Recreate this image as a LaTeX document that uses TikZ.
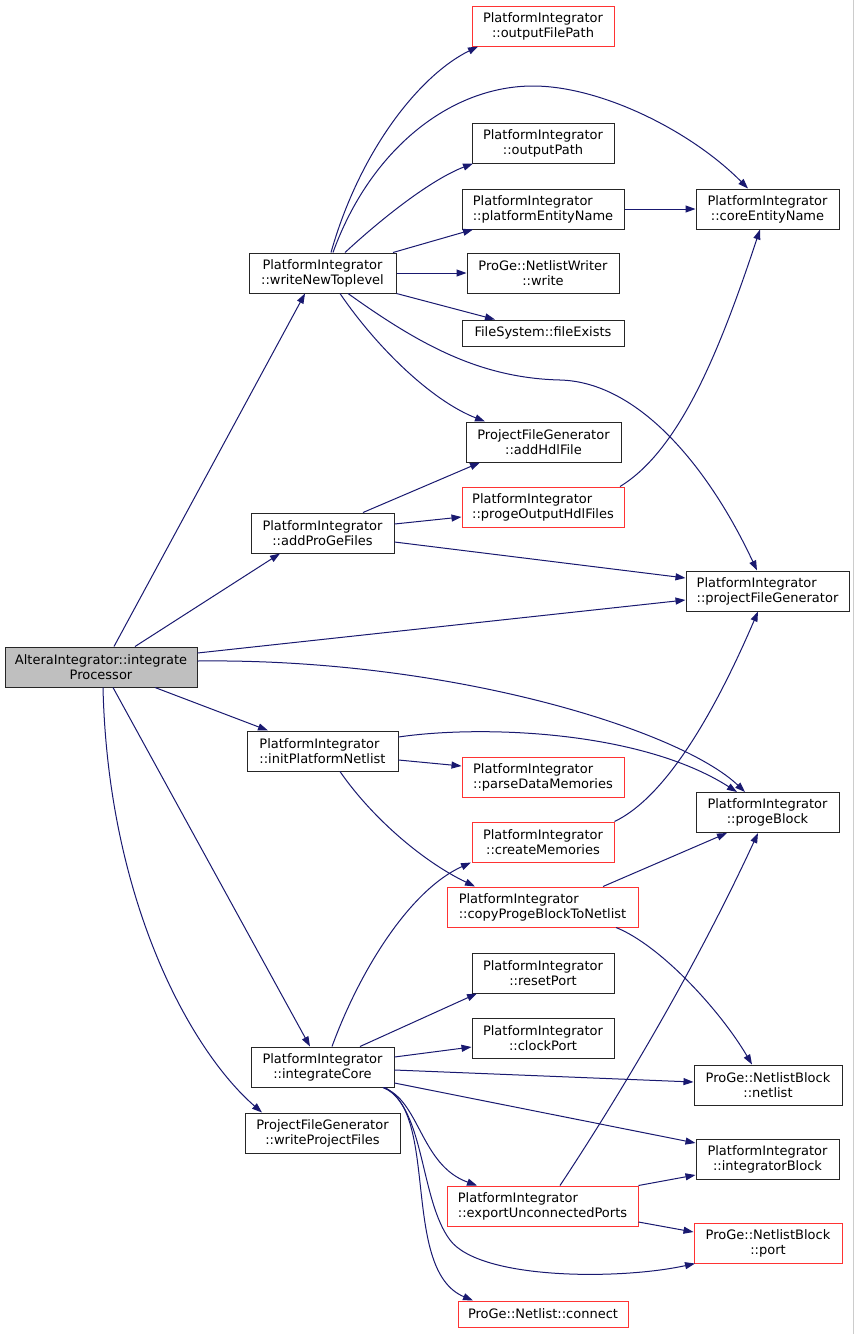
\documentclass[tikz,border=0pt]{standalone}
\usepackage{fontspec}
\setmainfont{DejaVu Sans}
\usetikzlibrary{arrows.meta}
\definecolor{edgec}{HTML}{191970}
\definecolor{redb}{HTML}{FF3333}
\definecolor{grayf}{HTML}{BFBFBF}
\begin{document}
\begin{tikzpicture}[x=1pt,y=-1pt,
  fn/.style={draw=black!85, line width=1pt, rectangle, inner sep=0pt, minimum height=40pt, align=center, font=\fontsize{13}{15}\selectfont},
  fnl/.style={fn, align=left},
  trunc/.style={draw=redb},
  e/.style={draw=edgec, line width=1pt, -{Triangle[length=10pt,width=7pt]}}]
\useasboundingbox (0,0) rectangle (855,1334);
\fill[white] (0,0) rectangle (855,1334);
\draw[gray!40, line width=1.5pt] (853.5,0) -- (853.5,1334);

% nodes
\node[fn, fill=grayf, minimum width=192pt] (A) at (101,667) {AlteraIntegrator::integrate\\Processor};
\node[fn, minimum width=147pt] (W) at (322.5,273) {PlatformIntegrator\\::writeNewToplevel};
\node[fn, minimum width=143pt] (G) at (322.5,533) {PlatformIntegrator\\::addProGeFiles};
\node[fnl, minimum width=151pt] (N) at (322.5,751) {PlatformIntegrator\\::initPlatformNetlist};
\node[fn, minimum width=143pt] (C) at (322.5,1067) {PlatformIntegrator\\::integrateCore};
\node[fn, minimum width=155pt] (WPF) at (322.5,1133) {ProjectFileGenerator\\::writeProjectFiles};

\node[fn, trunc, minimum width=142pt] (OFP) at (543,26) {PlatformIntegrator\\::outputFilePath};
\node[fn, minimum width=142pt] (OP) at (543,143) {PlatformIntegrator\\::outputPath};
\node[fnl, minimum width=162pt] (PEN) at (543,209) {PlatformIntegrator\\::platformEntityName};
\node[fn, minimum width=143pt] (CEN) at (767.5,209) {PlatformIntegrator\\::coreEntityName};
\node[fn, minimum width=152pt] (NW) at (543,273) {ProGe::NetlistWriter\\::write};
\node[fn, minimum width=162pt, minimum height=26pt] (FE) at (543,333) {FileSystem::fileExists};
\node[fn, minimum width=155pt] (AHF) at (543.5,442) {ProjectFileGenerator\\::addHdlFile};
\node[fnl, trunc, minimum width=162pt] (POH) at (543,507) {PlatformIntegrator\\::progeOutputHdlFiles};
\node[fnl, minimum width=163pt] (PFG) at (767.5,591) {PlatformIntegrator\\::projectFileGenerator};
\node[fnl, trunc, minimum width=162pt] (PDM) at (543,777) {PlatformIntegrator\\::parseDataMemories};
\node[fn, minimum width=143pt] (PB) at (767.5,812.5) {PlatformIntegrator\\::progeBlock};
\node[fn, trunc, minimum width=142pt] (CM) at (543,842) {PlatformIntegrator\\::createMemories};
\node[fnl, trunc, minimum width=191pt] (CPB) at (542.5,907) {PlatformIntegrator\\::copyProgeBlockToNetlist};
\node[fn, minimum width=142pt] (RP) at (543,973) {PlatformIntegrator\\::resetPort};
\node[fn, minimum width=142pt] (CP) at (543,1038) {PlatformIntegrator\\::clockPort};
\node[fn, minimum width=148pt] (NL) at (768,1085) {ProGe::NetlistBlock\\::netlist};
\node[fn, minimum width=143pt] (IB) at (767.5,1159) {PlatformIntegrator\\::integratorBlock};
\node[fnl, trunc, minimum width=191pt] (EUP) at (542.5,1206) {PlatformIntegrator\\::exportUnconnectedPorts};
\node[fn, trunc, minimum width=148pt] (PORT) at (768,1243) {ProGe::NetlistBlock\\::port};
\node[fn, trunc, minimum width=170pt, minimum height=26pt] (CON) at (543,1314) {ProGe::Netlist::connect};

% edges from A
\draw[e] ([xshift=13]A.north) -- ([xshift=-17.5]W.south);
\draw[e] ([xshift=34]A.north) -- ([xshift=-42.5]G.south);
\draw[e] ([yshift=14]A.east) -- ([yshift=-9]PFG.west);
\draw[e] ([yshift=6]A.east) .. controls (450,658) and (680,730) .. ([xshift=-22.5]PB.north);
\draw[e] ([xshift=54]A.south) -- ([xshift=-54.5]N.north);
\draw[e] ([xshift=12]A.south) -- ([xshift=-12.5]C.north);
\draw[e] ([xshift=2]A.south) .. controls (108,900) and (190,1050) .. ([xshift=-60.5]WPF.north);

% edges from W
\draw[e] ([xshift=8.5]W.north) .. controls (360,150) and (420,75) .. ([xshift=-65]OFP.south);
\draw[e] ([xshift=10.5]W.north) .. controls (370,150) and (450,86) .. (533,86)
   .. controls (600,86) and (690,130) .. ([xshift=-19.5]CEN.north);
\draw[e] ([xshift=22.5]W.north) .. controls (380,220) and (430,180) .. ([xshift=-70]OP.south);
\draw[e] ([xshift=70.5]W.north) -- ([xshift=-70]PEN.south);
\draw[e] (W.east) -- (NW.west);
\draw[e] (W.south east) -- ([xshift=-48]FE.north);
\draw[e] ([xshift=17.5]W.south) .. controls (375,345) and (430,400) .. ([xshift=-58.5]AHF.north);
\draw[e] ([xshift=25.5]W.south) .. controls (420,345) and (480,378) .. (560,380)
   .. controls (640,382) and (710,470) .. ([xshift=-10.5]PFG.north);

\draw[e] (PEN.east) -- (CEN.west);

% edges from G
\draw[e] ([xshift=40.5]G.north) -- ([xshift=-63.5]AHF.south);
\draw[e] ([yshift=9]G.east) -- ([yshift=-10]POH.west);
\draw[e] ([yshift=-9]G.east) -- ([yshift=13]PFG.west);

\draw[e] ([xshift=77]POH.north) .. controls (680,450) and (720,350) .. ([xshift=-7.5]CEN.south);

% edges from N
\draw[e] ([yshift=14]N.east) .. controls (480,725) and (640,730) .. ([xshift=-30.5]PB.north);
\draw[e] ([yshift=-9]N.east) -- ([yshift=11]PDM.west);
\draw[e] ([xshift=17.5]N.south) .. controls (370,815) and (420,860) .. ([xshift=-67.5]CPB.north);

\draw[e] (CM.north east) .. controls (670,795) and (720,700) .. ([xshift=-9.5]PFG.south);
\draw[e] ([xshift=60.5]CPB.north) -- ([xshift=-40.5]PB.south);
\draw[e] ([xshift=73.5]CPB.south) .. controls (660,945) and (720,1010) .. ([xshift=-16]NL.north);

% edges from C
\draw[e] ([xshift=9.5]C.north) .. controls (360,970) and (410,890) .. ([xshift=-72]CM.south);
\draw[e] ([xshift=37.5]C.north) -- ([xshift=-66]RP.south);
\draw[e] ([yshift=10]C.east) -- ([yshift=-9]CP.west);
\draw[e] ([yshift=-3]C.east) -- ([yshift=3]NL.west);
\draw[e] ([yshift=-16]C.east) -- ([yshift=16]IB.west);
\draw[e] ([xshift=60.5]C.south) .. controls (420,1100) and (420,1165) .. ([xshift=-65.5]EUP.north);
\draw[e] ([xshift=62.5]C.south) .. controls (425,1110) and (420,1200) .. (450,1240)
   .. controls (480,1280) and (620,1280) .. ([xshift=-73]PORT.south);
\draw[e] ([xshift=60.5]C.south) .. controls (440,1110) and (400,1270) .. ([xshift=-70]CON.north);

% edges from EUP
\draw[e] ([xshift=17.5]EUP.north) .. controls (610,1110) and (690,980) .. ([xshift=-9.5]PB.south);
\draw[e] (EUP.north east) -- ([yshift=-16]IB.west);
\draw[e] ([yshift=-16]EUP.east) -- ([yshift=11]PORT.west);
\end{tikzpicture}
\end{document}
